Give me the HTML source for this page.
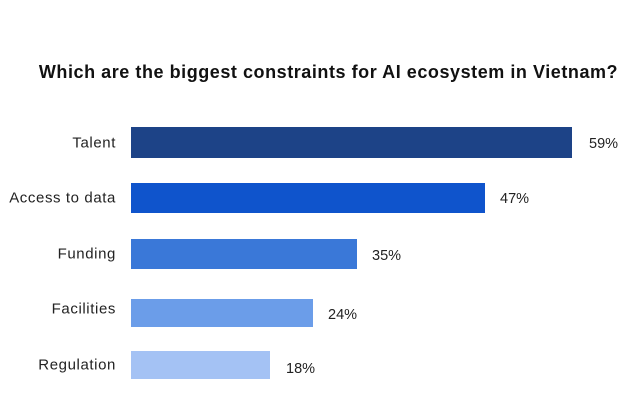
<!DOCTYPE html>
<html><head><style>
body{margin:0;width:640px;height:412px;background:#fff;font-family:"Liberation Sans",sans-serif;position:relative;overflow:hidden}
.t{position:absolute;left:0;width:657px;top:62px;text-align:center;font-weight:bold;font-size:18px;letter-spacing:0.55px;color:#111;white-space:nowrap}
.b{position:absolute;left:131px}
.l{position:absolute;right:524px;font-size:15px;letter-spacing:0.6px;color:#222;transform:translateY(-50%)}
.v{position:absolute;font-size:14.5px;color:#222;transform:translateY(-50%)}
</style></head><body>
<div class="t">Which are the biggest constraints for AI ecosystem in Vietnam?</div>
<div class="b" style="top:127px;height:31px;width:441px;background:#1d4387"></div>
<div class="b" style="top:183px;height:30px;width:354px;background:#0f54cc"></div>
<div class="b" style="top:239px;height:30px;width:226px;background:#3a78d8"></div>
<div class="b" style="top:299px;height:28px;width:182px;background:#6b9de9"></div>
<div class="b" style="top:351px;height:28px;width:139px;background:#a4c2f4"></div>
<div class="l" style="top:143px">Talent</div>
<div class="l" style="top:198px">Access to data</div>
<div class="l" style="top:254px">Funding</div>
<div class="l" style="top:309px">Facilities</div>
<div class="l" style="top:365px">Regulation</div>
<div class="v" style="left:589px;top:144px">59%</div>
<div class="v" style="left:500px;top:199px">47%</div>
<div class="v" style="left:372px;top:256px">35%</div>
<div class="v" style="left:328px;top:315px">24%</div>
<div class="v" style="left:286px;top:369px">18%</div>
</body></html>
